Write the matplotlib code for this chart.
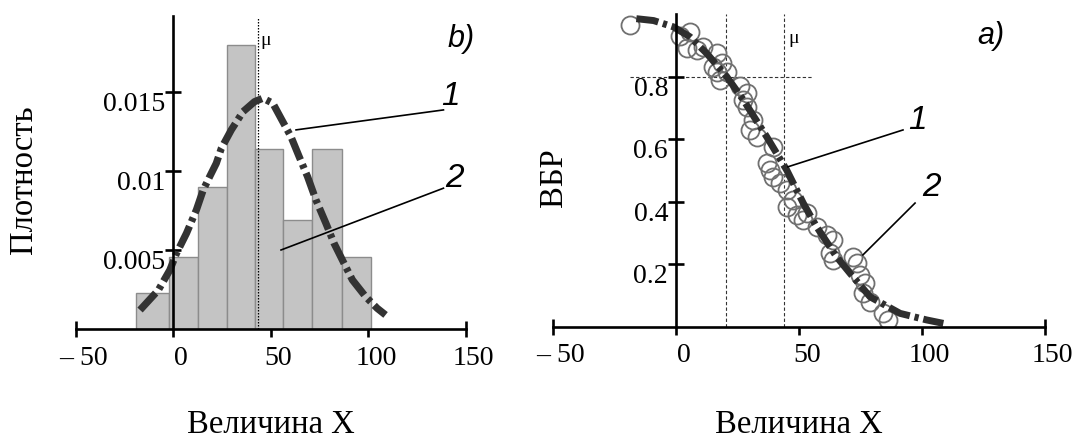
import matplotlib
matplotlib.use("Agg")
import matplotlib.pyplot as plt
import matplotlib.transforms as mtransforms
from matplotlib.ticker import FixedLocator
import numpy as np

# --- data ---
# b) histogram (density) + fitted normal density
bin_edges = [-19, -2, 13, 27.5, 42, 56.5, 71.5, 86.5, 101.5]
hist_density = [0.0023, 0.00454, 0.0090, 0.01794, 0.01136, 0.0069, 0.01136, 0.00454]
pdf_x = [-16.9, -7.5, -1.6, 1.8, 6.9, 12.0, 15.5, 18.8, 22.2, 24.8, 29.9, 35.9, 41.8,
         46.1, 51.2, 56.3, 60.5, 64.7, 69.0, 73.3, 78.4, 82.6, 87.7, 92.0, 98.8, 104.7, 109.0]
pdf_y = [0.00121, 0.00247, 0.00374, 0.00479, 0.00605, 0.00753, 0.00879, 0.00963, 0.01047,
         0.01142, 0.01258, 0.01373, 0.01436, 0.01458, 0.01426, 0.0131, 0.01215, 0.01089,
         0.00963, 0.00816, 0.00669, 0.00542, 0.00416, 0.00311, 0.00205, 0.00132, 0.0009]
mu_b = 43.8

# a) reliability function (theory) + empirical points
sf_x = [-16.0, -9.0, -1.0, 5.8, 12.6, 20.7, 27.5, 37.0, 45.1, 51.9, 57.3, 65.4, 70.9,
        79.0, 91.2, 102.0, 108.8]
sf_y = [0.985, 0.979, 0.959, 0.927, 0.874, 0.80, 0.725, 0.607, 0.501, 0.394, 0.319,
        0.223, 0.17, 0.095, 0.042, 0.021, 0.01]
emp_x = [-18.6, 1.7, 5.8, 4.5, 8.5, 11.2, 16.7, 15.3, 18.7, 16.7, 18.0, 20.7, 26.1, 28.9,
         27.5, 28.9, 31.5, 30.2, 32.9, 39.7, 37.0, 38.3, 39.7, 42.4, 45.1, 47.8, 45.1, 49.2,
         51.9, 53.3, 57.3, 61.4, 64.0, 62.7, 64.1, 72.2, 73.6, 74.9, 77.0, 76.3, 79.0, 84.4,
         86.4]
emp_y = [0.965, 0.93, 0.943, 0.89, 0.885, 0.895, 0.874, 0.831, 0.842, 0.815, 0.789, 0.815,
         0.77, 0.746, 0.725, 0.703, 0.661, 0.63, 0.607, 0.575, 0.522, 0.5, 0.479, 0.458,
         0.437, 0.405, 0.383, 0.356, 0.341, 0.362, 0.319, 0.292, 0.277, 0.234, 0.213, 0.223,
         0.202, 0.165, 0.138, 0.106, 0.079, 0.042, 0.021]
mu_a = 44.1
x_q80 = 20.3

xticks = [0, 50, 100]
xticks_end = [-50, 150]
xticklabels = ["0", "50", "100"]
xticklabels_end = ["\u2013 50", "150"]

SERIF = "Liberation Serif"
SANS = "Liberation Sans"
W, H = 1085, 441

fig = plt.figure(figsize=(W / 100, H / 100), dpi=100)
fig.patch.set_facecolor("white")


def px(x, y):
    # pixel (from top-left) -> figure fraction
    return x / W, 1 - y / H


def setup_axes(ax, ylim):
    ax.set_xlim(-50, 150)
    ax.set_ylim(*ylim)
    for s in ["top", "right"]:
        ax.spines[s].set_visible(False)
    ax.spines["left"].set_position(("data", 0))
    ax.spines["bottom"].set_position(("data", 0))
    for s in ["left", "bottom"]:
        ax.spines[s].set_linewidth(1.9)
        ax.spines[s].set_zorder(5)
    ax.set_xticks(xticks)
    ax.set_xticklabels(xticklabels)
    ax.xaxis.set_minor_locator(FixedLocator(xticks_end))
    ax.xaxis.set_minor_formatter(plt.FixedFormatter(xticklabels_end))
    ax.tick_params(axis="x", which="major", direction="out", length=6, width=1.9,
                   pad=6, labelsize=20)
    ax.tick_params(axis="x", which="minor", direction="inout", length=11, width=1.9,
                   pad=6.5, labelsize=20)
    ax.tick_params(axis="y", which="major", direction="inout", length=11, width=1.9,
                   pad=0, labelsize=20)
    off = mtransforms.ScaledTranslation(0.08, 0, fig.dpi_scale_trans)
    for lab in ax.get_xticklabels(which="both"):
        lab.set_fontfamily(SERIF)
        lab.set_transform(lab.get_transform() + off)
    for lab in ax.get_yticklabels():
        lab.set_fontfamily(SERIF)
        lab.set_verticalalignment("top")
    ax.patch.set_alpha(0)


# ---------------- b) density ----------------
axb = fig.add_axes([75.5 / W, (H - 329.2) / H, 390 / W, 313.7 / H])
widths = np.diff(bin_edges)
axb.bar(bin_edges[:-1], hist_density, width=widths, align="edge",
        color="#c4c4c4", edgecolor="#8c8c8c", linewidth=1.0, zorder=2)
axb.plot([mu_b, mu_b], [0, 0.0197], color="black", lw=0.9, ls=(0, (1.2, 1.2)), zorder=3)
axb.plot(pdf_x, pdf_y, color="#333333", lw=5.2, ls=(0, (3.2, 0.7, 0.6, 0.7)),
         dash_capstyle="butt", zorder=4)
axb.set_yticks([0.005, 0.01, 0.015])
axb.set_yticklabels(["0.005", "0.01", "0.015"])
setup_axes(axb, (0, 0.0198))
axb.text(mu_b + 1, 0.0182, "\u03bc", fontsize=14, family=SERIF, ha="left", va="center")
axb.plot([138.7, 63.1], [0.01384, 0.01258], color="black", lw=1.2, zorder=6)
axb.plot([138.7, 55.4], [0.0089, 0.0050], color="black", lw=1.2, zorder=6)
axb.text(142.1, 0.01466, "1", fontsize=24, family=SANS, style="italic",
         ha="center", va="center")
axb.text(144.2, 0.00951, "2", fontsize=24, family=SANS, style="italic",
         ha="center", va="center")
fig.text(*px(461.5, 39), "b)", fontsize=22, family=SANS, style="italic",
         ha="center", va="center")

# ---------------- a) reliability ----------------
axa = fig.add_axes([552.7 / W, (H - 326.5) / H, 492 / W, 312.5 / H])
axa.plot([x_q80, x_q80], [0, 1.0], color="#333333", lw=0.8, ls=(0, (3, 2)), zorder=1)
axa.plot([mu_a, mu_a], [0, 1.0], color="#333333", lw=0.8, ls=(0, (3, 2)), zorder=1)
axa.plot([-18.6, 55.8], [0.8, 0.8], color="#333333", lw=0.8, ls=(0, (3, 2)), zorder=1)
axa.plot(emp_x, emp_y, ls="none", marker="o", ms=13, mfc="none", mec="#707070",
         mew=1.3, zorder=3)
axa.plot(sf_x, sf_y, color="#2e2e2e", lw=5.0, ls=(0, (3.2, 0.7, 0.6, 0.7)),
         dash_capstyle="butt", zorder=4)
axa.set_yticks([0.2, 0.4, 0.6, 0.8])
axa.set_yticklabels(["0.2", "0.4", "0.6", "0.8"])
setup_axes(axa, (0, 1.0))
axa.text(mu_a + 1.5, 0.923, "\u03bc", fontsize=14, family=SERIF, ha="left", va="center")
axa.plot([92.4, 45.6], [0.629, 0.511], color="black", lw=1.2, zorder=6)
axa.plot([97.3, 76.1], [0.395, 0.229], color="black", lw=1.2, zorder=6)
axa.text(98.3, 0.658, "1", fontsize=24, family=SANS, style="italic",
         ha="center", va="center")
axa.text(103.8, 0.446, "2", fontsize=24, family=SANS, style="italic",
         ha="center", va="center")
fig.text(*px(991, 36), "a)", fontsize=22, family=SANS, style="italic",
         ha="center", va="center")

# axis titles
fig.text(*px(270.5, 433), "Величина X", fontsize=23.5, family=SERIF,
         ha="center", va="baseline")
fig.text(*px(798.7, 433), "Величина X", fontsize=23.5, family=SERIF,
         ha="center", va="baseline")
fig.text(*px(23.3, 180), "Плотность", fontsize=23.5, family=SERIF,
         rotation=90, ha="center", va="center")
fig.text(*px(554, 177.5), "ВБР", fontsize=23.5, family=SERIF,
         rotation=90, ha="center", va="center")

fig.savefig("out.png", dpi=100)
